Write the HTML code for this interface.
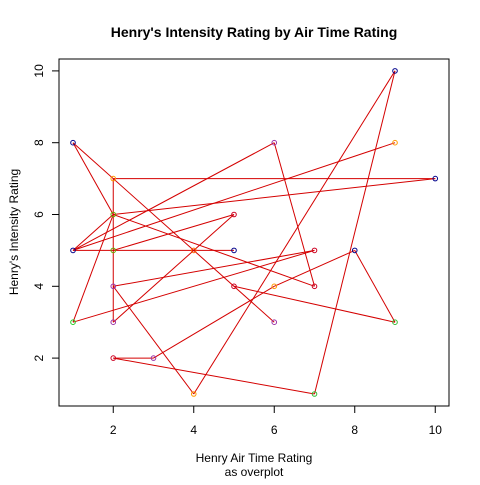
<!DOCTYPE html>
<html><head><meta charset="utf-8"><style>
body{margin:0;background:#fff}
svg text{font-family:"Liberation Sans",Arial,sans-serif;fill:#000}
</style></head><body>
<svg id="chart" width="480" height="480" viewBox="0 0 480 480" xmlns="http://www.w3.org/2000/svg">
<rect x="0" y="0" width="480" height="480" fill="#fff"/>
<text x="254" y="37" font-size="14" font-weight="bold" text-anchor="middle">Henry's Intensity Rating by Air Time Rating</text>
<rect x="59" y="59" width="390" height="347" fill="none" stroke="#000" stroke-width="1"/>
<g id="xaxis"></g>
<g id="yaxis"></g>
<text x="254" y="462" font-size="12" text-anchor="middle">Henry Air Time Rating</text>
<text x="254" y="476" font-size="12" text-anchor="middle">as overplot</text>
<text transform="translate(18,232) rotate(-90)" font-size="12" text-anchor="middle">Henry's Intensity Rating</text>
<g id="lines"></g>
<g id="points"></g>
</svg>
<script>
const xTicks=[2,4,6,8,10];
const yTicks=[2,4,6,8,10];
const ptX=[1,1,1,2,2,2,2,2,2,3,4,4,5,5,5,6,6,6,7,7,7,8,9,9,9,10];
const ptY=[8,5,3,7,6,5,4,3,2,2,5,1,6,5,4,8,4,3,5,4,1,5,10,8,3,7];
const ptColor=["#00008b","#00008b","#22cc22","#ff9900","#66aa00","#66aa00","#9933aa","#9933aa","#cc0022","#9933aa","#ff6600","#ff9900","#cc0022","#00008b","#cc0022","#9933aa","#ff9900","#9933aa","#cc0022","#cc0022","#33bb33","#00008b","#00008b","#ff9900","#33bb33","#00008b"];
const segX1=[1,1,2,2,2,2,1,1,1,1,1,1,2,2,2,2,4,7,6,8,9,3,6,2,2];
const segY1=[8,8,7,7,6,6,5,5,5,5,3,3,4,3,5,4,1,1,8,5,3,2,4,2,2];
const segX2=[2,6,10,2,7,10,9,6,5,2,2,7,7,5,5,4,9,9,7,9,5,6,8,3,7];
const segY2=[6,3,7,3,4,7,8,8,5,6,6,5,5,6,6,1,10,10,4,3,4,4,5,2,1];
function sx(v){return 73+(v-1)*40.25;}
function sy(v){return 394-(v-1)*35.9;}
const NS="http://www.w3.org/2000/svg";
const xa=document.getElementById('xaxis'),ya=document.getElementById('yaxis');
const lg=document.getElementById('lines'),pg=document.getElementById('points');
xTicks.forEach(t=>{
 const l=document.createElementNS(NS,'line');
 
 
 l.setAttribute('x1',sx(t));l.setAttribute('x2',sx(t));l.setAttribute('y1',406);l.setAttribute('y2',413);l.setAttribute('stroke','#000');
 xa.appendChild(l);
 const tx=document.createElementNS(NS,'text');
 
 
 tx.setAttribute('x',sx(t));tx.setAttribute('y',434);tx.setAttribute('font-size','12');tx.setAttribute('text-anchor','middle');
 tx.textContent=t;xa.appendChild(tx);
});
yTicks.forEach(t=>{
 const l=document.createElementNS(NS,'line');
 
 
 l.setAttribute('x1',52);l.setAttribute('x2',59);l.setAttribute('y1',sy(t));l.setAttribute('y2',sy(t));l.setAttribute('stroke','#000');
 ya.appendChild(l);
 const tx=document.createElementNS(NS,'text');
 
 
 tx.setAttribute('transform','translate(43,'+sy(t)+') rotate(-90)');tx.setAttribute('font-size','12');tx.setAttribute('text-anchor','middle');
 tx.textContent=t;ya.appendChild(tx);
});
for(let i=0;i<segX1.length;i++){
 const l=document.createElementNS(NS,'line');
 
 
 l.setAttribute('x1',sx(segX1[i]));l.setAttribute('y1',sy(segY1[i]));
 l.setAttribute('x2',sx(segX2[i]));l.setAttribute('y2',sy(segY2[i]));
 l.setAttribute('stroke','#d40000');l.setAttribute('stroke-width','1');
 lg.appendChild(l);
}
for(let i=0;i<ptX.length;i++){
 const c=document.createElementNS(NS,'circle');
 
 
 c.setAttribute('cx',sx(ptX[i]));c.setAttribute('cy',sy(ptY[i]));c.setAttribute('r',2.3);
 c.setAttribute('fill','none');c.setAttribute('stroke',ptColor[i]);c.setAttribute('stroke-width','1');
 pg.appendChild(c);
}
</script>
</body></html>
